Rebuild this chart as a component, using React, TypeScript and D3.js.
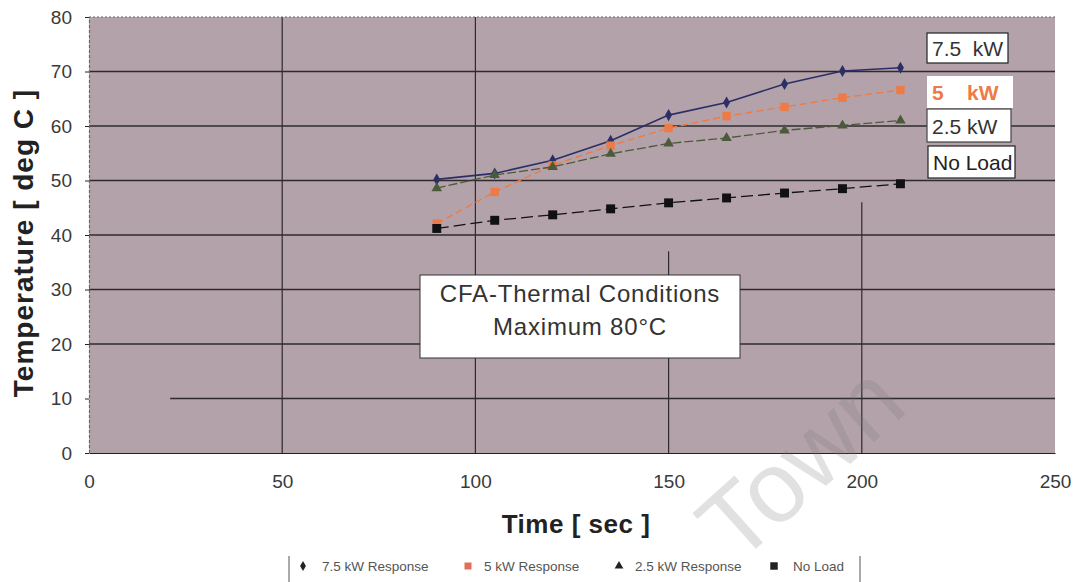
import { axisBottom, axisLeft, line as d3Line, scaleLinear, select, symbol, symbolDiamond, symbolSquare, symbolTriangle } from "d3";
import { useEffect, useRef } from "react";

// chart values
const times = [90, 105, 120, 135, 150, 165, 180, 195, 210];
const load75 = [50.2, 51.3, 53.7, 57.3, 62.0, 64.3, 67.7, 70.1, 70.7];
const load5 = [42.1, 47.9, 52.8, 56.4, 59.6, 61.8, 63.5, 65.2, 66.6];
const load25 = [48.6, 51.0, 52.5, 54.9, 56.8, 57.8, 59.2, 60.1, 61.0];
const noLoad = [41.2, 42.7, 43.7, 44.8, 45.9, 46.8, 47.7, 48.5, 49.4];
const xTicks = [0, 50, 100, 150, 200, 250];
const yTicks = [0, 10, 20, 30, 40, 50, 60, 70, 80];
const seriesNames = ["7.5 kW Response", "5 kW Response", "2.5 kW Response", "No Load"];
const sideLabels = ["7.5  kW", "5    kW", "2.5 kW", "No Load"];

const W = 1076;
const H = 582;
const MARGINS = { top: 17, right: 21, bottom: 129, left: 89 };
const FONT = "'Liberation Sans', Arial, sans-serif";

const series = [
  { name: seriesNames[0], values: load75, color: "#2b2f66", shape: symbolDiamond, size: 42, dash: "none", width: 1.6 },
  { name: seriesNames[1], values: load5, color: "#ee7a45", shape: symbolSquare, size: 70, dash: "7,4", width: 1.4 },
  { name: seriesNames[2], values: load25, color: "#4c5a3c", shape: symbolTriangle, size: 48, dash: "9,3", width: 1.3 },
  { name: seriesNames[3], values: noLoad, color: "#111111", shape: symbolSquare, size: 80, dash: "12,5", width: 1.3 },
];

const App = () => {
  const svgElem = useRef<SVGSVGElement>(null);

  useEffect(() => {
    if (!svgElem.current) return;
    const svg = select(svgElem.current);
    svg.selectAll("*").remove();

    const xScale = scaleLinear().domain([0, 250]).range([MARGINS.left, W - MARGINS.right]);
    const yScale = scaleLinear().domain([0, 80]).range([H - MARGINS.bottom, MARGINS.top]);
    const plotW = W - MARGINS.right - MARGINS.left;
    const plotH = yScale(0) - yScale(80);

    // plot background
    svg
      .append("rect")
      .attr("x", MARGINS.left)
      .attr("y", MARGINS.top)
      .attr("width", plotW)
      .attr("height", plotH)
      .attr("fill", "#b4a2ab");

    // gridlines (the scan loses the top part of the two right-hand verticals)
    const grid = svg.append("g");
    yTicks.slice(1, -1).forEach((t) => {
      grid
        .append("line")
        .attr("x1", t === 10 ? xScale(21) : MARGINS.left)
        .attr("x2", W - MARGINS.right)
        .attr("y1", yScale(t))
        .attr("y2", yScale(t))
        .attr("stroke", "#2e2a2e")
        .attr("stroke-width", 1.3);
    });
    const vTop: Record<number, number> = { 50: 80, 100: 80, 150: 37, 200: 46 };
    xTicks.slice(1, -1).forEach((t) => {
      grid
        .append("line")
        .attr("x1", xScale(t))
        .attr("x2", xScale(t))
        .attr("y1", yScale(0))
        .attr("y2", yScale(vTop[t]))
        .attr("stroke", "#2e2a2e")
        .attr("stroke-width", 1.2);
    });
    // dotted top edge
    grid
      .append("line")
      .attr("x1", MARGINS.left)
      .attr("x2", W - MARGINS.right)
      .attr("y1", yScale(80))
      .attr("y2", yScale(80))
      .attr("stroke", "#666")
      .attr("stroke-dasharray", "2,2");

    // axes
    const yAxis = axisLeft(yScale).tickValues(yTicks).tickSize(4).tickPadding(13);
    const xAxis = axisBottom(xScale).tickValues(xTicks).tickSize(0).tickPadding(22);
    const gy = svg.append("g").attr("transform", `translate(${MARGINS.left}, 0)`);
    // @ts-expect-error: d3 types
    gy.call(yAxis);
    const gx = svg.append("g").attr("transform", `translate(0, ${yScale(0)})`);
    // @ts-expect-error: d3 types
    gx.call(xAxis);
    [gx, gy].forEach((g) => {
      g.select(".domain").attr("stroke", "#222").attr("stroke-width", 1.2);
      g.selectAll(".tick line").attr("stroke", "#222");
      g.selectAll(".tick text")
        .attr("fill", "#3a3a3a")
        .style("font-family", FONT)
        .style("font-size", "19px");
    });
    gy.select(".domain").attr("stroke-dasharray", "3,2").attr("stroke", "#666");

    // axis titles
    svg
      .append("text")
      .attr("transform", `translate(26, ${243}) rotate(-90)`)
      .attr("text-anchor", "middle")
      .attr("dominant-baseline", "middle")
      .style("font-family", FONT)
      .style("font-size", "28px")
      .style("font-weight", "bold")
      .style("letter-spacing", "1px")
      .attr("fill", "#222")
      .text("Temperature [ deg C ]");
    svg
      .append("text")
      .attr("x", 576)
      .attr("y", 533)
      .attr("text-anchor", "middle")
      .style("font-family", FONT)
      .style("font-size", "26px")
      .style("font-weight", "bold")
      .style("letter-spacing", "0.5px")
      .attr("fill", "#222")
      .text("Time [ sec ]");

    // series lines and markers
    series.forEach((s) => {
      const pts = s.values.map((v, i) => ({ x: times[i], y: v }));
      const line = d3Line<{ x: number; y: number }>()
        .x((p) => xScale(p.x))
        .y((p) => yScale(p.y));
      svg
        .append("path")
        .attr("d", line(pts))
        .attr("fill", "none")
        .attr("stroke", s.color)
        .attr("stroke-width", s.width)
        .attr("stroke-dasharray", s.dash);
      svg
        .append("g")
        .selectAll("path")
        .data(pts)
        .join("path")
        .attr("transform", (p) => `translate(${xScale(p.x)}, ${yScale(p.y)})`)
        .attr("d", symbol().type(s.shape).size(s.size)())
        .attr("fill", s.color);
    });

    // annotation box
    svg
      .append("rect")
      .attr("x", 420)
      .attr("y", 275)
      .attr("width", 320)
      .attr("height", 83)
      .attr("fill", "#ffffff")
      .attr("stroke", "#333")
      .attr("stroke-width", 1);
    const ann = svg
      .append("text")
      .attr("text-anchor", "middle")
      .style("font-family", FONT)
      .style("font-size", "24px")
      .style("letter-spacing", "0.8px")
      .attr("fill", "#333");
    ann.append("tspan").attr("x", 580).attr("y", 302).text("CFA-Thermal Conditions");
    ann.append("tspan").attr("x", 580).attr("y", 335).text("Maximum 80°C");

    // side labels
    const boxes = [
      { x: 927, y: 33, w: 81, h: 30, color: "#333", weight: "normal", stroke: "#222" },
      { x: 927, y: 76, w: 86, h: 32, color: "#ee7a45", weight: "bold", stroke: "none" },
      { x: 927, y: 109, w: 84, h: 33, color: "#333", weight: "normal", stroke: "#444" },
      { x: 928, y: 146, w: 87, h: 32, color: "#222", weight: "normal", stroke: "#222" },
    ];
    boxes.forEach((b, i) => {
      svg
        .append("rect")
        .attr("x", b.x)
        .attr("y", b.y)
        .attr("width", b.w)
        .attr("height", b.h)
        .attr("fill", "#fff")
        .attr("stroke", b.stroke)
        .attr("stroke-width", 1.2);
      svg
        .append("text")
        .attr("x", b.x + 5)
        .attr("y", b.y + b.h / 2 + 8)
        .style("font-family", FONT)
        .style("font-size", "21px")
        .style("font-weight", b.weight)
        .style("white-space", "pre")
        .attr("fill", b.color)
        .text(sideLabels[i]);
    });

    // legend
    const legendItems = [
      { x: 303, tx: 322 },
      { x: 468, tx: 484 },
      { x: 619, tx: 635 },
      { x: 774, tx: 793 },
    ];
    const lg = svg.append("g");
    lg.append("line").attr("x1", 289).attr("x2", 289).attr("y1", 556).attr("y2", 582).attr("stroke", "#555");
    lg.append("line").attr("x1", 860).attr("x2", 860).attr("y1", 556).attr("y2", 582).attr("stroke", "#555");
    series.forEach((s, i) => {
      lg.append("path")
        .attr("transform", `translate(${legendItems[i].x}, 566)`)
        .attr("d", symbol().type(s.shape).size(s.size * 0.7)())
        .attr("fill", i === 1 ? "#e0705a" : "#222");
      lg.append("text")
        .attr("x", legendItems[i].tx)
        .attr("y", 571)
        .style("font-family", FONT)
        .style("font-size", "13.5px")
        .attr("fill", "#555")
        .text(s.name);
    });

    // faint watermark
    svg
      .append("text")
      .attr("transform", "translate(800, 462) rotate(-42)")
      .attr("text-anchor", "middle")
      .attr("dominant-baseline", "central")
      .style("font-family", FONT)
      .style("font-size", "100px")
      .attr("fill", "#777")
      .attr("fill-opacity", 0.22)
      .text("Town");
  }, []);

  return (
    <svg
      ref={svgElem}
      width={W}
      height={H}
      style={{ position: "absolute", left: 0, top: 0, background: "#fff" }}
    />
  );
};

export default App;
